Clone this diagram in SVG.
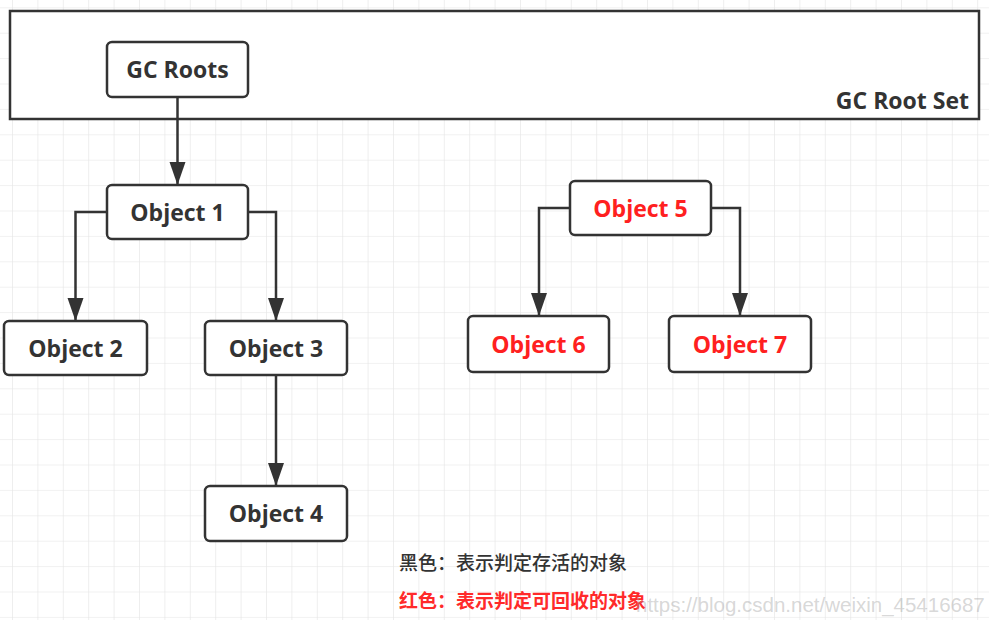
<svg xmlns="http://www.w3.org/2000/svg" width="989" height="620" viewBox="0 0 989 620">
  <defs>
    <pattern id="grid" patternUnits="userSpaceOnUse" x="12" y="7.3" width="25.4" height="25.4">
      <path d="M0 0 H25.4 M0 0 V25.4" fill="none" stroke="#e4e4e4" stroke-width="1.2"/>
    </pattern>
    <marker id="arrow" markerUnits="userSpaceOnUse" markerWidth="24" markerHeight="17" refX="23" refY="8.5" orient="auto">
      <path d="M0 0.5 L23 8.5 L0 16.5 Z" fill="#333"/>
    </marker>
    <style>
      .box { fill: #fff; stroke: #333; stroke-width: 2.5; }
      .lbl { font-family: "Open Sans", "Noto Sans", "DejaVu Sans", sans-serif; font-weight: bold; font-size: 23px; text-anchor: middle; fill: #333; }
      .red { fill: #ff2020; }
      .conn { fill: none; stroke: #333; stroke-width: 2.5; marker-end: url(#arrow); }
      .legend { font-family: "Noto Sans CJK SC", "Noto Sans", sans-serif; font-size: 19px; }
    </style>
  </defs>
  <rect width="989" height="620" fill="#fff"/>
  <rect width="989" height="620" fill="url(#grid)"/>

  <g id="gc-root-set">
    <rect x="10" y="11" width="969" height="108" fill="#fff" stroke="#333" stroke-width="2.5"/>
    <text x="969" y="109" class="lbl" style="text-anchor:end">GC Root Set</text>
  </g>

  <g id="connectors">
    <path class="conn" d="M177.5 97 V185"/>
    <path class="conn" d="M107 212 H75.5 V321"/>
    <path class="conn" d="M248 212 H276 V321"/>
    <path class="conn" d="M276 375 V486"/>
    <path class="conn" d="M570 208 H539 V316"/>
    <path class="conn" d="M711 208 H740 V316"/>
  </g>

  <g id="gc-roots">
    <rect class="box" x="107" y="42" width="141" height="55" rx="5"/>
    <text class="lbl" x="177.5" y="78">GC Roots</text>
  </g>
  <g id="object1">
    <rect class="box" x="107" y="185" width="141" height="54" rx="5"/>
    <text class="lbl" x="177.5" y="220.5">Object 1</text>
  </g>
  <g id="object2">
    <rect class="box" x="4" y="321" width="143" height="54" rx="5"/>
    <text class="lbl" x="75.5" y="356.5">Object 2</text>
  </g>
  <g id="object3">
    <rect class="box" x="205" y="321" width="142" height="54" rx="5"/>
    <text class="lbl" x="276" y="356.5">Object 3</text>
  </g>
  <g id="object4">
    <rect class="box" x="205" y="486" width="142" height="55" rx="5"/>
    <text class="lbl" x="276" y="522">Object 4</text>
  </g>
  <g id="object5">
    <rect class="box" x="570" y="181" width="141" height="54" rx="5"/>
    <text class="lbl red" x="640.5" y="216.5">Object 5</text>
  </g>
  <g id="object6">
    <rect class="box" x="468" y="316" width="141" height="56" rx="5"/>
    <text class="lbl red" x="538.5" y="352.5">Object 6</text>
  </g>
  <g id="object7">
    <rect class="box" x="669" y="316" width="142" height="56" rx="5"/>
    <text class="lbl red" x="740" y="352.5">Object 7</text>
  </g>

  <g id="legend">
    <text class="legend" x="399" y="570" fill="#333" font-weight="500">黑色：表示判定存活的对象</text>
    <text class="legend" x="399" y="608" fill="#ff2a2a" font-weight="bold">红色：表示判定可回收的对象</text>
  </g>
  <text x="636" y="612" font-family="'Liberation Sans', Arial, sans-serif" font-size="20.5" fill="#9a9a9a" fill-opacity="0.4">https://blog.csdn.net/weixin_45416687</text>
</svg>
